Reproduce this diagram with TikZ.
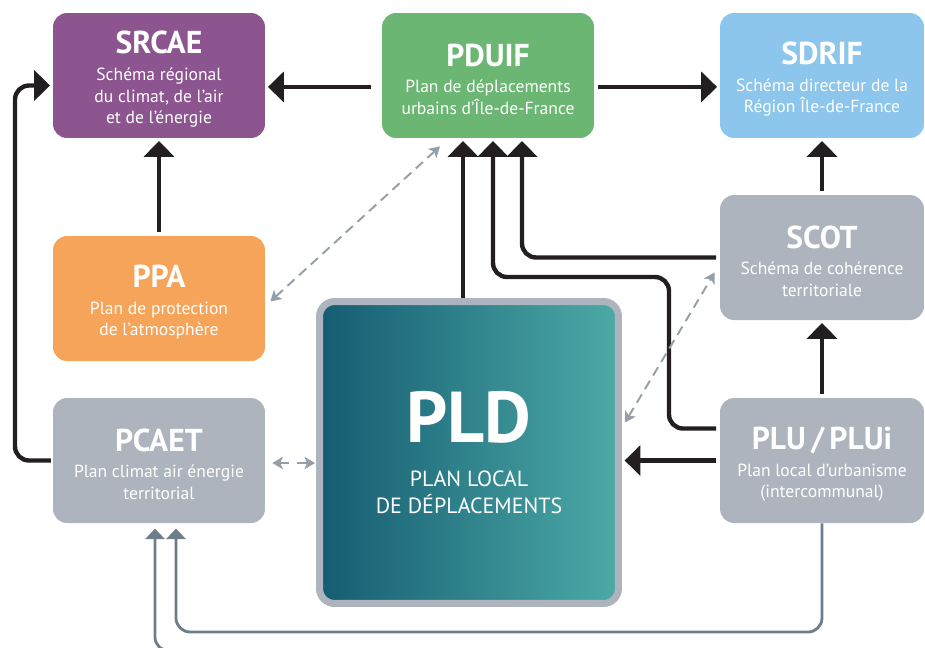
\documentclass[tikz,border=0pt]{standalone}
\usepackage{fontspec}
\setmainfont{PT Sans}
\usetikzlibrary{arrows.meta, calc, positioning}
\definecolor{srcae}{RGB}{140,85,144}
\definecolor{pduif}{RGB}{107,182,115}
\definecolor{sdrif}{RGB}{140,198,236}
\definecolor{ppa}{RGB}{245,164,90}
\definecolor{local}{RGB}{173,180,189}
\definecolor{pldleft}{RGB}{21,92,114}
\definecolor{pldmid}{RGB}{27,122,134}
\definecolor{pldright}{RGB}{76,170,166}
\definecolor{arrowblack}{RGB}{35,31,32}
\definecolor{feedgray}{RGB}{110,125,138}
\definecolor{linkgray}{RGB}{150,158,168}
\newcommand{\boxhead}{\fontsize{18}{20}\selectfont\bfseries\rule{0pt}{17pt}}
\newcommand{\boxdesc}{\fontsize{10}{12.3}\selectfont\mdseries}
\newcommand{\pldhead}{\fontsize{41}{44}\selectfont\bfseries}
\newcommand{\pldsub}{\fontsize{12.5}{15}\selectfont\mdseries}

\begin{document}
\begin{tikzpicture}[x=0.02cm, y=-0.02cm]
        % Define styles
        \tikzstyle{planbox} = [rectangle, rounded corners=0.28cm, minimum width=4.24cm, minimum height=2.5cm, align=center, text=white, inner sep=2pt, font=\boxdesc]
        \tikzstyle{edgebox} = [planbox, minimum width=4.08cm]
        \tikzstyle{arrow} = [-{Triangle[length=9pt, width=17pt]}, line width=2.5pt, arrowblack, shorten >=1.5pt]
        \tikzstyle{feed} = [-{Triangle[length=6pt, width=11pt]}, line width=1.6pt, feedgray, shorten >=3pt]
        \tikzstyle{dashlink} = [{Stealth[length=6pt, width=7pt, inset=1.5pt]}-{Stealth[length=6pt, width=7pt, inset=1.5pt]}, line width=1.1pt, linkgray, dash pattern=on 5.5pt off 3.5pt]

        \clip (0,0) rectangle (925,647);

        % Plans
        \node[planbox, fill=srcae] (srcae) at (159,75.5) {\boxhead SRCAE\\[3pt]\boxdesc Schéma régional\\du climat, de l’air\\et de l’énergie};
        \node[planbox, fill=pduif] (pduif) at (488,75.5) {\boxhead PDUIF\\[3pt]\boxdesc Plan de déplacements\\urbains d’Île-de-France};
        \node[edgebox, fill=sdrif] (sdrif) at (822,75.5) {\boxhead SDRIF\\[3pt]\boxdesc Schéma directeur de la\\Région Île-de-France};
        \node[planbox, fill=ppa] (ppa) at (159,298.5) {\boxhead PPA\\[3pt]\boxdesc Plan de protection\\de l’atmosphère};
        \node[edgebox, fill=local] (scot) at (822,257.5) {\boxhead SCOT\\[3pt]\boxdesc Schéma de cohérence\\territoriale};
        \node[planbox, fill=local] (pcaet) at (159,460.5) {\boxhead PCAET\\[3pt]\boxdesc Plan climat air énergie\\territorial};
        \node[edgebox, fill=local] (plu) at (822,460.5) {\boxhead PLU\,/\,PLUi\\[3pt]\boxdesc Plan local d’urbanisme\\(intercommunal)};

        % PLD
        \node[rectangle, rounded corners=0.3cm, minimum width=5.98cm, minimum height=6.04cm, draw=local, line width=0.14cm,
              left color=pldleft, middle color=pldmid, right color=pldright, align=center, text=white, font=\pldsub] (pld) at (469,452.5)
              {\pldhead PLD\\[10pt]\pldsub PLAN LOCAL\\DE DÉPLACEMENTS};

        % Compatibility links
        \draw[arrow, shorten <=6pt] ([yshift=-6.5pt]pduif.west) -- ([yshift=-6.5pt]srcae.east);
        \draw[arrow, shorten <=2pt] ([yshift=-6.5pt]pduif.east) -- ([yshift=-6.5pt]sdrif.west);
        \draw[arrow, shorten <=2pt] (ppa.north) -- (srcae.south);
        \draw[arrow, shorten <=2pt] (scot.north) -- (sdrif.south);
        \draw[arrow, shorten <=2pt] (plu.north) -- (scot.south);
        \draw[arrow, shorten <=2pt] (plu.west) -- (plu.west -| pld.east);
        \draw[arrow] (pld.north -| 463,0) -- (pduif.south -| 463,0);
        \draw[arrow, rounded corners=8pt, shorten <=2pt] (scot.west) -| ($(pduif.south)+(34,0)$);
        \draw[arrow, rounded corners=8pt, shorten <=2pt] ($(plu.west)+(0,-32)$) -| (669,277) -| ($(pduif.south)+(5,0)$);
        \draw[arrow, rounded corners=8pt, shorten <=1pt] (pcaet.west) -- (15,460.5) |- ($(srcae.west)+(0,10)$);

        % Feedback to PCAET
        \draw[feed, rounded corners=8pt] (plu.south) -- (plu.south |- 0,632) -| ($(pcaet.south)+(17,0)$);
        \draw[feed, rounded corners=8pt] (300,651) -| ($(pcaet.south)+(-4,0)$);

        % Dashed links
        \draw[dashlink] ($(ppa.east)+(5,3)$) -- ($(pduif.south)+(-48,8)$);
        \draw[dashlink] ($(pld.east)+(3,-30)$) -- ($(scot.west)+(-5,15)$);
        \draw[dashlink, dash pattern=on 5.5pt off 4.5pt on 10pt] ($(pcaet.east)+(7,2.5)$) -- ($(pcaet.east -| pld.west)+(-1,2.5)$);

    \end{tikzpicture}
\end{document}
